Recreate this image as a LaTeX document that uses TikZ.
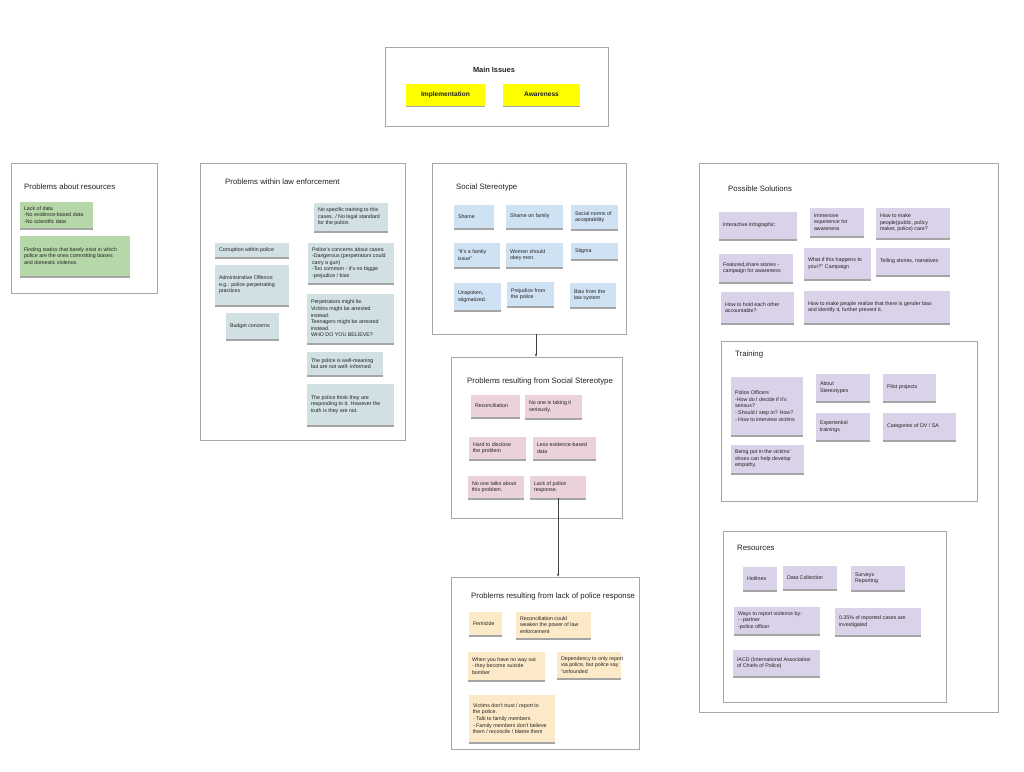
\documentclass[tikz,border=0pt]{standalone}
\usepackage{fontspec}
\setmainfont{Liberation Sans}
\usetikzlibrary{shadows,arrows.meta}
\definecolor{cgreen}{HTML}{B6D7A8}
\definecolor{claw}{HTML}{D0E0E3}
\definecolor{cblue}{HTML}{CFE2F3}
\definecolor{cpink}{HTML}{EAD1DC}
\definecolor{cpeach}{HTML}{FCE9C8}
\definecolor{cpurple}{HTML}{D9D2E9}
\definecolor{cyell}{HTML}{FFFF00}
\definecolor{cframe}{HTML}{A6A6A6}
\definecolor{ctext}{HTML}{222222}
\tikzset{
 frame/.style={draw=cframe, line width=0.8pt, fill=white, inner sep=0pt},
 note/.style={inner sep=0pt,
   drop shadow={shadow xshift=0.4pt, shadow yshift=-1.5pt, opacity=0.5, fill=black!70}},
 notetext/.style={anchor=west, inner sep=0pt, align=left, font=\fontsize{5.3}{6.6}\selectfont, text=ctext},
 mainbox/.style={note, align=center, font=\bfseries\fontsize{6.6}{8}\selectfont, text=ctext},
 title/.style={anchor=west, font=\fontsize{7.8}{9}\selectfont, text=ctext, inner sep=0pt},
 conn/.style={draw=black!75, line width=0.6pt, -{Stealth[length=3pt,width=2.4pt]}},
}
\newcommand\mknote[7]{%
 \pgfmathsetmacro\nw{#4-#2}\pgfmathsetmacro\nh{#5-#3}%
 \pgfmathsetmacro\cx{(#2+#4)/2}\pgfmathsetmacro\cy{(#3+#5)/2}%
 \node[note, fill=#6, minimum width=\nw pt, minimum height=\nh pt] (#1) at (\cx,\cy) {};
 \node[notetext] (#1-t) at ([xshift=4pt]#1.west) {#7};}
\newcommand\mkframe[5]{%
 \pgfmathsetmacro\nw{#4-#2}\pgfmathsetmacro\nh{#5-#3}%
 \pgfmathsetmacro\cx{(#2+#4)/2}\pgfmathsetmacro\cy{(#3+#5)/2}%
 \node[frame, minimum width=\nw pt, minimum height=\nh pt] (#1) at (\cx,\cy) {};}
\begin{document}
\begin{tikzpicture}[x=1pt,y=-1pt]
\useasboundingbox[fill=white] (0,0) rectangle (1024,771);

% ---------- frames ----------
\mkframe{main}{385}{47}{608}{126}
\mkframe{resprob}{11}{163}{157}{293}
\mkframe{law}{200}{163}{405}{440}
\mkframe{ss}{432}{163}{626}{334}
\mkframe{prss}{451}{357}{622}{518}
\mkframe{plpr}{451}{577}{639}{749}
\mkframe{sol}{699}{163}{998}{712}
\mkframe{train}{721}{341}{977}{501}
\mkframe{res}{723}{531}{946}{702}

% ---------- titles ----------
\node[font=\bfseries\fontsize{7.4}{9}\selectfont, text=ctext, inner sep=0pt] (tmain) at (494,70) {Main Issues};
\node[title] (tresprob) at (24,187) {Problems about resources};
\node[title] (tlaw) at (225,182) {Problems within law enforcement};
\node[title] (tss) at (456,187) {Social Stereotype};
\node[title] (tprss) at (467,381) {Problems resulting from Social Stereotype};
\node[title] (tplpr) at (471,596) {Problems resulting from lack of police response};
\node[title] (tsol) at (728,189) {Possible Solutions};
\node[title] (ttrain) at (735,354) {Training};
\node[title] (tres) at (737,548) {Resources};

% ---------- main issues ----------
\node[mainbox, fill=cyell, minimum width=79pt, minimum height=22pt] (impl) at (445.5,94.5) {Implementation};
\node[mainbox, fill=cyell, minimum width=77pt, minimum height=22pt] (aware) at (541.5,94.5) {Awareness};

% ---------- problems about resources ----------
\mknote{lackdata}{20}{202}{93}{228}{cgreen}{Lack of data\\-No evidence-based data\\-No scientific data}
\mknote{finding}{20}{236}{130}{276}{cgreen}{Finding statics that barely exist in which\\police are the ones committing biases\\and domestic violence.}

% ---------- law enforcement ----------
\mknote{notrain}{314}{203}{388}{231}{claw}{No specific training to this\\cases. / No legal standard\\for the police.}
\mknote{corr}{215}{243}{289}{257}{claw}{Corruption within police}
\mknote{concerns}{308}{243}{394}{283}{claw}{Police's concerns about cases:\\-Dangerous (perpetrators could\\carry a gun)\\-Too common - it's no biggie\\-prejudice / bias}
\mknote{admin}{215}{265}{289}{305}{claw}{Administrative Offence:\\e.g.: police perpetrating\\practices}
\mknote{budget}{226}{313}{279}{339}{claw}{Budget concerns}
\mknote{perp}{307}{294}{394}{343}{claw}{Perpetrators might lie.\\Victims might be arrested\\instead.\\Teenagers might be arrested\\instead.\\WHO DO YOU BELIEVE?}
\mknote{wellmean}{307}{352}{383}{375}{claw}{The police is well-meaning\\but are not well- informed}
\mknote{think}{307}{384}{394}{425}{claw}{The police think they are\\responding to it. However the\\truth is they are not.}

% ---------- social stereotype ----------
\mknote{shame}{454}{205}{494}{228}{cblue}{Shame}
\mknote{shamefam}{506}{205}{563}{228}{cblue}{Shame on family}
\mknote{norms}{571}{205}{618}{229}{cblue}{Social norms of\\acceptability}
\mknote{famissue}{454}{243}{500}{267}{cblue}{``It's a family\\issue''}
\mknote{women}{506}{243}{563}{267}{cblue}{Women should\\obey men.}
\mknote{stigma}{571}{243}{618}{259}{cblue}{Stigma}
\mknote{unspoken}{454}{283}{501}{310}{cblue}{Unspoken,\\stigmatized.}
\mknote{prejud}{507}{282}{554}{306}{cblue}{Prejudice from\\the police}
\mknote{biaslaw}{570}{283}{616}{307}{cblue}{Bias from the\\law system}

% ---------- problems resulting from social stereotype ----------
\mknote{recon}{471}{395}{520}{417}{cpink}{Reconciliation}
\mknote{noone}{525}{395}{582}{418}{cpink}{No one is taking it\\seriously.}
\mknote{hard}{469}{437}{526}{459}{cpink}{Hard to disclose\\the problem}
\mknote{less}{533}{437}{596}{459}{cpink}{Less evidence-based\\data}
\mknote{talks}{468}{476}{524}{498}{cpink}{No one talks about\\this problem.}
\mknote{lackpol}{530}{476}{586}{498}{cpink}{Lack of police\\response.}

% ---------- problems resulting from lack of police response ----------
\mknote{femicide}{469}{612}{502}{635}{cpeach}{Femicide}
\mknote{reconw}{516}{612}{591}{638}{cpeach}{Reconciliation could\\weaken the power of law\\enforcement}
\mknote{noway}{468}{652}{545}{680}{cpeach}{When you have no way out\\- they become suicide\\bomber}
\mknote{depend}{557}{652}{621}{678}{cpeach}{Dependency to only report\\via police, but police say\\``unfounded}
\mknote{victims}{469}{695}{555}{742}{cpeach}{Victims don't trust / report to\\the police.\\- Talk to family members\\- Family members don't believe\\them / reconcile / blame them}

% ---------- possible solutions ----------
\mknote{infog}{719}{212}{797}{239}{cpurple}{Interactive Infographic}
\mknote{immersive}{810}{208}{864}{236}{cpurple}{Immersive\\experience for\\awareness}
\mknote{howcare}{876}{208}{950}{238}{cpurple}{How to make\\people(public, policy\\maker, police) care?}
\mknote{featured}{719}{254}{793}{282}{cpurple}{Featured,share stories -\\campaign for awareness}
\mknote{whatif}{804}{248}{871}{279}{cpurple}{What if this happens to\\your?'' Campaign}
\mknote{telling}{876}{248}{950}{275}{cpurple}{Telling stories, narratives}
\mknote{hold}{721}{292}{794}{323}{cpurple}{How to hold each other\\accountable?}
\mknote{realize}{804}{291}{950}{323}{cpurple}{How to make people realize that there is gender bias\\and identify it, further prevent it.}

% ---------- training ----------
\mknote{officers}{731}{377}{803}{435}{cpurple}{Police Officers\\-How do I decide if it's\\serious?\\- Should I step in? How?\\- How to interview victims}
\mknote{aboutst}{816}{374}{870}{401}{cpurple}{About\\Stereotypes}
\mknote{pilot}{883}{374}{936}{401}{cpurple}{Pilot projects}
\mknote{exper}{816}{413}{870}{440}{cpurple}{Experiential\\trainings}
\mknote{categ}{883}{413}{956}{440}{cpurple}{Categories of DV / SA}
\mknote{shoes}{731}{445}{804}{473}{cpurple}{Being put in the victims'\\shoes can help develop\\empathy.}

% ---------- resources ----------
\mknote{hot}{743}{567}{777}{590}{cpurple}{Hotlines}
\mknote{datac}{783}{566}{837}{589}{cpurple}{Data Collection}
\mknote{surveys}{851}{566}{905}{590}{cpurple}{Surveys\\Reporting}
\mknote{ways}{734}{607}{820}{634}{cpurple}{Ways to report violence by:\\- -partner\\-police officer}
\mknote{pct}{835}{608}{921}{635}{cpurple}{0.35\% of reported cases are\\investigated}
\mknote{iacd}{733}{650}{820}{676}{cpurple}{IACD (International Association\\of Chiefs of Police)}

% ---------- connectors ----------
\coordinate (cx1) at (536,0);
\draw[conn] (cx1 |- ss.south) -- (cx1 |- prss.north);
\draw[conn] (lackpol.south) -- (lackpol.south |- plpr.north);
\end{tikzpicture}
\end{document}
